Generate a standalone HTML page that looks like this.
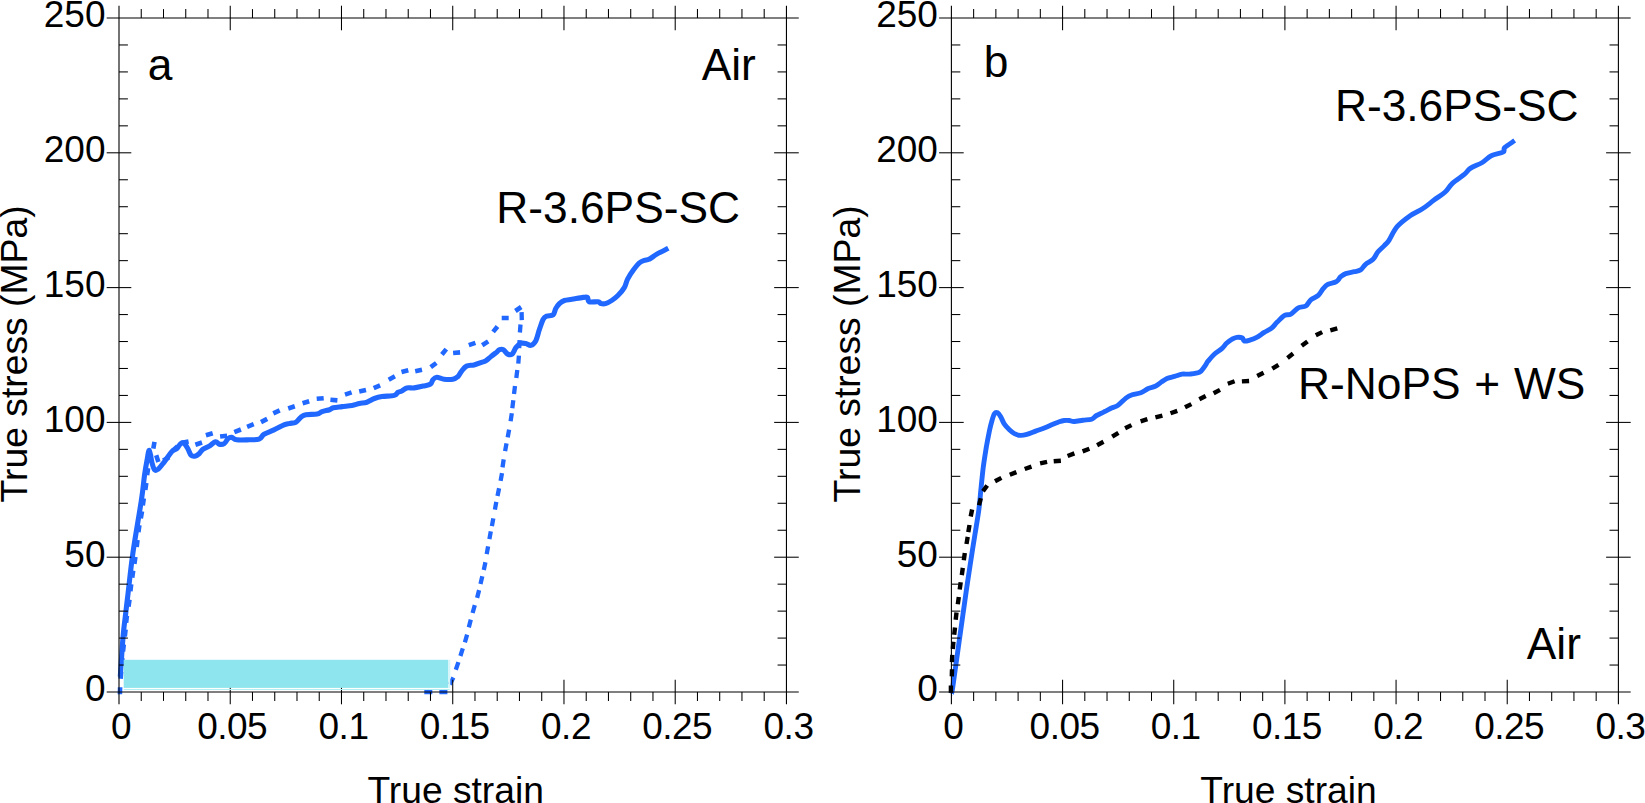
<!DOCTYPE html>
<html lang="en">
<head>
<meta charset="utf-8">
<title>True stress vs true strain</title>
<style>
html,body{margin:0;padding:0;background:#fff;}
body{width:1645px;height:803px;overflow:hidden;}
svg{display:block;}
</style>
</head>
<body>
<svg width="1645" height="803" viewBox="0 0 1645 803" font-family="'Liberation Sans', Arial, Helvetica, sans-serif">
<rect x="0" y="0" width="1645" height="803" fill="#fff"/>
<path d="M120.3,676.6 C120.5,673.1 121.2,662.7 121.7,655.4 C122.2,648.1 122.7,640.3 123.4,633.0 C124.1,625.7 125.2,617.8 125.9,611.6 C126.6,605.4 126.6,605.6 127.8,595.6 C129.0,585.6 130.8,567.5 133.1,551.6 C135.4,535.7 139.5,512.9 141.4,500.2 C143.3,487.5 143.6,481.9 144.5,475.3 C145.4,468.7 146.2,464.6 147.0,460.4 C147.8,456.3 148.5,450.0 149.3,450.4 C150.1,450.8 151.1,459.7 152.0,462.9 C152.9,466.1 153.5,468.7 154.5,469.7 C155.5,470.7 156.5,470.5 158.2,469.1 C159.9,467.8 162.2,464.5 164.5,461.6 C166.8,458.7 169.8,453.8 171.9,451.6 C174.0,449.4 175.4,449.9 176.9,448.6 C178.4,447.3 179.4,444.4 180.7,443.6 C181.9,442.8 183.2,442.7 184.4,443.6 C185.6,444.5 187.0,447.2 188.1,449.2 C189.2,451.2 189.9,454.3 191.2,455.4 C192.4,456.5 194.2,456.3 195.6,456.0 C196.9,455.7 198.0,454.6 199.3,453.5 C200.5,452.4 201.4,450.4 203.1,449.2 C204.8,448.0 207.2,447.4 209.3,446.1 C211.4,444.9 213.8,442.0 215.5,441.7 C217.2,441.4 217.8,443.9 219.2,444.2 C220.6,444.5 222.7,444.5 224.2,443.6 C225.7,442.7 226.8,439.7 228.0,438.6 C229.2,437.6 230.2,437.1 231.7,437.3 C233.1,437.5 233.8,439.4 236.7,439.8 C239.6,440.2 245.4,439.9 249.1,439.8 C252.8,439.7 256.6,440.1 259.1,439.2 C261.6,438.3 261.6,435.8 264.1,434.2 C266.6,432.7 270.7,431.5 274.0,429.9 C277.3,428.4 281.4,426.0 284.0,424.9 C286.6,423.8 287.7,423.9 289.7,423.4 C291.7,423.0 294.0,423.2 295.9,422.2 C297.8,421.2 299.2,418.5 300.9,417.2 C302.6,416.0 303.2,415.2 305.9,414.7 C308.6,414.2 314.4,414.6 317.1,414.1 C319.8,413.6 320.0,412.3 322.1,411.6 C324.2,410.9 327.7,410.3 329.6,409.7 C331.5,409.1 331.2,408.3 333.3,407.8 C335.4,407.3 338.9,407.0 342.0,406.6 C345.1,406.2 349.1,405.9 352.0,405.4 C354.9,404.9 356.9,404.0 359.4,403.5 C361.9,403.0 364.4,403.0 366.9,402.2 C369.4,401.4 371.9,399.4 374.4,398.5 C376.9,397.6 378.6,397.1 381.9,396.6 C385.2,396.1 391.6,396.1 394.3,395.4 C397.0,394.7 396.8,393.0 398.0,392.3 C399.2,391.6 400.3,391.7 401.8,391.0 C403.3,390.3 404.7,388.4 406.8,387.9 C408.9,387.4 411.5,388.2 414.2,387.9 C416.9,387.6 420.3,386.7 423.0,386.1 C425.7,385.5 428.8,385.3 430.4,384.2 C432.0,383.2 431.8,381.0 432.9,379.8 C433.9,378.6 434.8,377.4 436.7,377.3 C438.6,377.2 441.4,378.9 444.1,379.2 C446.8,379.5 450.5,379.6 452.8,379.2 C455.1,378.8 456.3,378.1 457.8,376.7 C459.3,375.4 460.1,372.9 461.6,371.1 C463.0,369.3 464.4,367.1 466.5,366.1 C468.6,365.1 471.5,365.5 474.0,364.9 C476.5,364.3 479.6,363.1 481.5,362.4 C483.4,361.7 484.1,361.9 485.7,360.9 C487.3,359.9 489.2,358.0 490.9,356.6 C492.6,355.2 494.4,353.9 495.9,352.8 C497.3,351.7 498.3,350.2 499.6,349.7 C500.8,349.2 502.0,349.0 503.4,349.7 C504.8,350.4 506.2,353.4 507.7,354.1 C509.1,354.8 510.8,355.2 512.1,354.1 C513.5,353.1 514.5,349.6 515.8,347.8 C517.2,346.0 518.5,344.2 520.2,343.5 C521.9,342.8 524.0,343.2 525.8,343.5 C527.6,343.8 529.2,345.8 530.8,345.4 C532.5,345.0 534.2,343.7 535.7,341.0 C537.2,338.3 538.2,332.8 539.5,329.2 C540.8,325.6 542.0,321.4 543.2,319.2 C544.4,317.0 545.2,316.8 546.9,316.1 C548.6,315.4 551.7,316.1 553.2,314.8 C554.7,313.6 554.7,310.5 555.7,308.6 C556.7,306.7 558.0,305.0 559.4,303.6 C560.9,302.2 562.3,301.2 564.4,300.5 C566.5,299.8 568.8,299.8 571.9,299.3 C575.0,298.8 580.5,297.7 583.1,297.4 C585.7,297.1 586.4,296.7 587.4,297.4 C588.4,298.1 587.5,301.1 589.3,301.8 C591.1,302.5 596.0,301.5 598.0,301.8 C600.0,302.1 599.9,303.3 601.1,303.6 C602.4,303.9 603.7,304.1 605.5,303.6 C607.3,303.1 609.6,301.9 611.7,300.5 C613.8,299.1 615.8,297.6 617.9,295.5 C620.0,293.4 622.7,290.3 624.3,287.6 C625.9,284.9 626.1,282.0 627.6,279.1 C629.1,276.2 631.2,273.0 633.2,270.3 C635.2,267.6 637.5,264.6 639.4,262.9 C641.3,261.3 642.7,261.0 644.4,260.4 C646.1,259.8 647.3,260.2 649.4,259.1 C651.5,258.1 653.7,255.9 656.8,254.1 C660.0,252.3 666.4,249.3 668.3,248.3" fill="none" stroke="#2068ff" stroke-width="5.1" stroke-linejoin="round" stroke-linecap="butt"/>
<path d="M119.9,694.3 L120.1,687.3 M120.6,678.8 L121.2,671.8 M121.8,665.1 L122.4,658.1 M123.0,651.4 L123.8,644.4 M124.8,636.5 L125.6,629.5 M126.1,622.8 L126.9,615.8 M128.5,606.6 L129.5,599.6 M130.4,591.3 L131.2,584.3 M132.2,577.6 L133.2,570.6 M134.4,563.9 L135.4,556.9 M136.7,547.1 L137.5,540.1 M138.4,532.1 L139.4,525.1 M140.8,518.4 L142.0,511.4 M142.8,505.3 L143.8,498.3 M145.3,490.0 L146.3,483.0 M147.1,475.1 L148.1,468.1 M149.5,461.0 L151.1,454.2 M153.3,448.6 L154.5,441.8 M156.2,455.3 L158.4,461.9 M163.2,460.6 L169.2,457.2 M172.4,450.9 L177.6,446.3 M181.8,442.8 L188.6,441.4 M195.4,444.7 L202.0,442.5 M205.9,435.2 L212.7,433.2 M220.1,436.5 L227.1,435.7 M234.3,432.1 L240.9,429.5 M247.1,426.8 L253.7,424.2 M261.0,422.1 L267.2,418.9 M273.3,413.3 L279.7,410.3 M288.2,408.5 L294.8,406.3 M302.6,403.2 L309.2,401.2 M316.7,398.8 L323.7,398.2 M330.4,399.8 L337.4,400.4 M345.0,394.6 L351.6,392.4 M359.2,391.6 L366.0,390.0 M373.7,388.1 L380.1,385.3 M388.7,379.7 L394.9,376.3 M401.5,372.0 L408.3,370.2 M415.2,371.2 L422.0,369.8 M430.7,367.2 L436.3,363.0 M441.9,354.5 L446.3,349.1 M453.1,353.0 L460.1,352.4 M468.8,345.1 L475.4,342.9 M482.2,345.2 L488.2,341.4 M493.1,331.9 L497.5,326.5 M501.7,318.0 L508.7,318.0 M515.4,311.0 L521.2,307.0" fill="none" stroke="#2068ff" stroke-width="4.6" stroke-linecap="butt"/>
<path d="M521.6,312.1 L521.8,320.1 M520.5,324.5 L519.9,332.5 M519.6,340.1 L519.2,348.1 M518.9,355.7 L518.3,363.7 M517.3,370.1 L516.3,378.1 M515.0,385.9 L514.0,393.9 M513.3,400.2 L512.3,408.2 M511.8,413.3 L510.6,421.3 M509.1,429.6 L507.7,437.4 M506.5,443.3 L505.1,451.1 M503.7,459.4 L502.5,467.4 M502.0,473.1 L500.6,480.9 M499.1,488.2 L497.5,496.0 M496.3,501.9 L494.9,509.7 M493.3,518.3 L491.9,526.1 M490.8,531.4 L489.4,539.2 M488.1,546.4 L486.7,554.2 M485.4,562.2 L483.8,570.0 M482.3,576.2 L480.5,584.0 M479.1,590.1 L477.1,597.9 M474.8,605.2 L472.6,613.0 M470.8,619.6 L468.8,627.4 M467.1,634.7 L464.9,642.3 M462.8,648.4 L460.4,656.0 M458.4,662.1 L455.8,669.7 M453.4,677.5 L449.8,684.5 M439.4,692.2 L447.4,692.2 M424.3,692.2 L432.3,692.2" fill="none" stroke="#2068ff" stroke-width="4.3" stroke-linecap="butt"/>
<g stroke="#000" stroke-width="1.1" fill="none">
<line x1="106.70" y1="18.00" x2="798.75" y2="18.00"/>
<line x1="106.70" y1="692.00" x2="798.75" y2="692.00"/>
<line x1="119.00" y1="5.70" x2="119.00" y2="704.30"/>
<line x1="786.45" y1="5.70" x2="786.45" y2="704.30"/>
</g>
<g stroke="#000" stroke-width="1.05" fill="none">
<line x1="141.25" y1="9.10" x2="141.25" y2="18.00"/>
<line x1="141.25" y1="692.00" x2="141.25" y2="700.90"/>
<line x1="163.50" y1="9.10" x2="163.50" y2="18.00"/>
<line x1="163.50" y1="692.00" x2="163.50" y2="700.90"/>
<line x1="185.75" y1="9.10" x2="185.75" y2="18.00"/>
<line x1="185.75" y1="692.00" x2="185.75" y2="700.90"/>
<line x1="207.99" y1="9.10" x2="207.99" y2="18.00"/>
<line x1="207.99" y1="692.00" x2="207.99" y2="700.90"/>
<line x1="230.24" y1="5.70" x2="230.24" y2="30.30"/>
<line x1="230.24" y1="679.70" x2="230.24" y2="704.30"/>
<line x1="252.49" y1="9.10" x2="252.49" y2="18.00"/>
<line x1="252.49" y1="692.00" x2="252.49" y2="700.90"/>
<line x1="274.74" y1="9.10" x2="274.74" y2="18.00"/>
<line x1="274.74" y1="692.00" x2="274.74" y2="700.90"/>
<line x1="296.99" y1="9.10" x2="296.99" y2="18.00"/>
<line x1="296.99" y1="692.00" x2="296.99" y2="700.90"/>
<line x1="319.24" y1="9.10" x2="319.24" y2="18.00"/>
<line x1="319.24" y1="692.00" x2="319.24" y2="700.90"/>
<line x1="341.48" y1="5.70" x2="341.48" y2="30.30"/>
<line x1="341.48" y1="679.70" x2="341.48" y2="704.30"/>
<line x1="363.73" y1="9.10" x2="363.73" y2="18.00"/>
<line x1="363.73" y1="692.00" x2="363.73" y2="700.90"/>
<line x1="385.98" y1="9.10" x2="385.98" y2="18.00"/>
<line x1="385.98" y1="692.00" x2="385.98" y2="700.90"/>
<line x1="408.23" y1="9.10" x2="408.23" y2="18.00"/>
<line x1="408.23" y1="692.00" x2="408.23" y2="700.90"/>
<line x1="430.48" y1="9.10" x2="430.48" y2="18.00"/>
<line x1="430.48" y1="692.00" x2="430.48" y2="700.90"/>
<line x1="452.73" y1="5.70" x2="452.73" y2="30.30"/>
<line x1="452.73" y1="679.70" x2="452.73" y2="704.30"/>
<line x1="474.97" y1="9.10" x2="474.97" y2="18.00"/>
<line x1="474.97" y1="692.00" x2="474.97" y2="700.90"/>
<line x1="497.22" y1="9.10" x2="497.22" y2="18.00"/>
<line x1="497.22" y1="692.00" x2="497.22" y2="700.90"/>
<line x1="519.47" y1="9.10" x2="519.47" y2="18.00"/>
<line x1="519.47" y1="692.00" x2="519.47" y2="700.90"/>
<line x1="541.72" y1="9.10" x2="541.72" y2="18.00"/>
<line x1="541.72" y1="692.00" x2="541.72" y2="700.90"/>
<line x1="563.97" y1="5.70" x2="563.97" y2="30.30"/>
<line x1="563.97" y1="679.70" x2="563.97" y2="704.30"/>
<line x1="586.22" y1="9.10" x2="586.22" y2="18.00"/>
<line x1="586.22" y1="692.00" x2="586.22" y2="700.90"/>
<line x1="608.46" y1="9.10" x2="608.46" y2="18.00"/>
<line x1="608.46" y1="692.00" x2="608.46" y2="700.90"/>
<line x1="630.71" y1="9.10" x2="630.71" y2="18.00"/>
<line x1="630.71" y1="692.00" x2="630.71" y2="700.90"/>
<line x1="652.96" y1="9.10" x2="652.96" y2="18.00"/>
<line x1="652.96" y1="692.00" x2="652.96" y2="700.90"/>
<line x1="675.21" y1="5.70" x2="675.21" y2="30.30"/>
<line x1="675.21" y1="679.70" x2="675.21" y2="704.30"/>
<line x1="697.46" y1="9.10" x2="697.46" y2="18.00"/>
<line x1="697.46" y1="692.00" x2="697.46" y2="700.90"/>
<line x1="719.71" y1="9.10" x2="719.71" y2="18.00"/>
<line x1="719.71" y1="692.00" x2="719.71" y2="700.90"/>
<line x1="741.95" y1="9.10" x2="741.95" y2="18.00"/>
<line x1="741.95" y1="692.00" x2="741.95" y2="700.90"/>
<line x1="764.20" y1="9.10" x2="764.20" y2="18.00"/>
<line x1="764.20" y1="692.00" x2="764.20" y2="700.90"/>
<line x1="119.00" y1="665.04" x2="127.90" y2="665.04"/>
<line x1="777.55" y1="665.04" x2="786.45" y2="665.04"/>
<line x1="119.00" y1="638.08" x2="127.90" y2="638.08"/>
<line x1="777.55" y1="638.08" x2="786.45" y2="638.08"/>
<line x1="119.00" y1="611.12" x2="127.90" y2="611.12"/>
<line x1="777.55" y1="611.12" x2="786.45" y2="611.12"/>
<line x1="119.00" y1="584.16" x2="127.90" y2="584.16"/>
<line x1="777.55" y1="584.16" x2="786.45" y2="584.16"/>
<line x1="106.70" y1="557.20" x2="131.30" y2="557.20"/>
<line x1="774.15" y1="557.20" x2="798.75" y2="557.20"/>
<line x1="119.00" y1="530.24" x2="127.90" y2="530.24"/>
<line x1="777.55" y1="530.24" x2="786.45" y2="530.24"/>
<line x1="119.00" y1="503.28" x2="127.90" y2="503.28"/>
<line x1="777.55" y1="503.28" x2="786.45" y2="503.28"/>
<line x1="119.00" y1="476.32" x2="127.90" y2="476.32"/>
<line x1="777.55" y1="476.32" x2="786.45" y2="476.32"/>
<line x1="119.00" y1="449.36" x2="127.90" y2="449.36"/>
<line x1="777.55" y1="449.36" x2="786.45" y2="449.36"/>
<line x1="106.70" y1="422.40" x2="131.30" y2="422.40"/>
<line x1="774.15" y1="422.40" x2="798.75" y2="422.40"/>
<line x1="119.00" y1="395.44" x2="127.90" y2="395.44"/>
<line x1="777.55" y1="395.44" x2="786.45" y2="395.44"/>
<line x1="119.00" y1="368.48" x2="127.90" y2="368.48"/>
<line x1="777.55" y1="368.48" x2="786.45" y2="368.48"/>
<line x1="119.00" y1="341.52" x2="127.90" y2="341.52"/>
<line x1="777.55" y1="341.52" x2="786.45" y2="341.52"/>
<line x1="119.00" y1="314.56" x2="127.90" y2="314.56"/>
<line x1="777.55" y1="314.56" x2="786.45" y2="314.56"/>
<line x1="106.70" y1="287.60" x2="131.30" y2="287.60"/>
<line x1="774.15" y1="287.60" x2="798.75" y2="287.60"/>
<line x1="119.00" y1="260.64" x2="127.90" y2="260.64"/>
<line x1="777.55" y1="260.64" x2="786.45" y2="260.64"/>
<line x1="119.00" y1="233.68" x2="127.90" y2="233.68"/>
<line x1="777.55" y1="233.68" x2="786.45" y2="233.68"/>
<line x1="119.00" y1="206.72" x2="127.90" y2="206.72"/>
<line x1="777.55" y1="206.72" x2="786.45" y2="206.72"/>
<line x1="119.00" y1="179.76" x2="127.90" y2="179.76"/>
<line x1="777.55" y1="179.76" x2="786.45" y2="179.76"/>
<line x1="106.70" y1="152.80" x2="131.30" y2="152.80"/>
<line x1="774.15" y1="152.80" x2="798.75" y2="152.80"/>
<line x1="119.00" y1="125.84" x2="127.90" y2="125.84"/>
<line x1="777.55" y1="125.84" x2="786.45" y2="125.84"/>
<line x1="119.00" y1="98.88" x2="127.90" y2="98.88"/>
<line x1="777.55" y1="98.88" x2="786.45" y2="98.88"/>
<line x1="119.00" y1="71.92" x2="127.90" y2="71.92"/>
<line x1="777.55" y1="71.92" x2="786.45" y2="71.92"/>
<line x1="119.00" y1="44.96" x2="127.90" y2="44.96"/>
<line x1="777.55" y1="44.96" x2="786.45" y2="44.96"/>
</g>
<rect x="123.7" y="659.8" width="324.6" height="28.1" fill="#8fe5ee"/>
<rect x="448.3" y="659.8" width="2" height="28.1" fill="#d6f5f8"/>
<rect x="123.7" y="689" width="326" height="1" fill="#b5eef3"/>
<g font-size="37" fill="#000">
<text x="121.0" y="738.6" text-anchor="middle" letter-spacing="-0.5">0</text>
<text x="232.2" y="738.6" text-anchor="middle" letter-spacing="-0.5">0.05</text>
<text x="343.5" y="738.6" text-anchor="middle" letter-spacing="-0.5">0.1</text>
<text x="454.7" y="738.6" text-anchor="middle" letter-spacing="-0.5">0.15</text>
<text x="566.0" y="738.6" text-anchor="middle" letter-spacing="-0.5">0.2</text>
<text x="677.2" y="738.6" text-anchor="middle" letter-spacing="-0.5">0.25</text>
<text x="788.5" y="738.6" text-anchor="middle" letter-spacing="-0.5">0.3</text>
<text x="105.5" y="701.3" text-anchor="end">0</text>
<text x="105.5" y="566.5" text-anchor="end">50</text>
<text x="105.5" y="431.7" text-anchor="end">100</text>
<text x="105.5" y="296.9" text-anchor="end">150</text>
<text x="105.5" y="162.1" text-anchor="end">200</text>
<text x="105.5" y="27.3" text-anchor="end">250</text>
<text x="455.7" y="802.6" text-anchor="middle" font-size="37.2">True strain</text>
<text transform="translate(27.0,353.9) rotate(-90)" text-anchor="middle" font-size="37.3">True stress (MPa)</text>
</g>
<g font-size="44.3" fill="#000">
<text x="147.8" y="80.2">a</text>
<text x="701.7" y="80.3">Air</text>
<text x="496.3" y="223.1">R-3.6PS-SC</text>
</g>
<path d="M951.0,693.6 C951.2,693.0 951.5,694.9 952.3,690.2 C953.1,685.5 954.6,673.6 955.8,665.3 C957.0,657.0 958.1,648.7 959.3,640.4 C960.5,632.1 961.6,623.8 962.8,615.5 C964.0,607.2 965.1,599.0 966.3,590.6 C967.5,582.2 968.7,574.7 970.1,565.3 C971.5,555.9 973.5,543.5 975.0,534.2 C976.5,524.9 977.9,516.6 978.9,509.3 C979.9,502.0 980.1,497.5 980.8,490.6 C981.5,483.7 982.3,475.1 983.2,467.8 C984.1,460.5 985.4,452.8 986.4,446.6 C987.5,440.4 988.6,434.9 989.5,430.5 C990.4,426.1 991.2,423.3 992.0,420.5 C992.8,417.7 993.6,414.9 994.5,413.6 C995.4,412.3 996.6,412.3 997.6,412.8 C998.6,413.3 999.6,414.9 1000.7,416.8 C1001.8,418.7 1003.0,422.0 1004.4,424.2 C1005.9,426.4 1007.7,428.2 1009.4,429.8 C1011.1,431.4 1012.5,432.7 1014.4,433.6 C1016.3,434.5 1018.5,435.3 1020.6,435.4 C1022.7,435.5 1024.3,435.1 1026.8,434.4 C1029.3,433.7 1032.7,432.2 1035.6,431.1 C1038.5,430.0 1041.6,429.1 1044.3,428.0 C1047.0,426.9 1049.2,425.9 1051.7,424.8 C1054.2,423.8 1057.1,422.4 1059.2,421.7 C1061.3,421.0 1062.5,420.7 1064.2,420.5 C1065.9,420.3 1067.5,420.3 1069.2,420.5 C1070.9,420.7 1071.9,421.6 1074.2,421.5 C1076.5,421.4 1080.0,420.6 1082.9,420.2 C1085.8,419.8 1089.3,420.0 1091.6,419.2 C1093.9,418.4 1094.5,416.7 1096.6,415.5 C1098.7,414.3 1101.6,413.1 1104.1,411.8 C1106.6,410.6 1109.2,409.1 1111.5,408.0 C1113.8,406.9 1115.3,407.1 1117.7,405.5 C1120.1,403.9 1123.5,399.9 1125.9,398.1 C1128.3,396.3 1129.7,395.6 1132.2,394.7 C1134.7,393.8 1138.2,393.8 1140.9,392.8 C1143.6,391.8 1145.8,389.6 1148.3,388.5 C1150.8,387.4 1153.5,387.1 1155.8,386.0 C1158.1,384.9 1160.1,382.9 1162.0,381.6 C1163.9,380.4 1164.9,379.4 1167.0,378.5 C1169.1,377.6 1172.0,377.1 1174.5,376.4 C1177.0,375.7 1179.5,374.5 1182.0,374.1 C1184.5,373.7 1186.5,374.4 1189.4,374.1 C1192.3,373.8 1196.9,373.5 1199.4,372.3 C1201.9,371.1 1203.0,368.6 1204.4,366.7 C1205.9,364.8 1206.5,363.2 1208.1,361.1 C1209.8,359.0 1212.0,356.3 1214.3,354.2 C1216.6,352.1 1219.7,350.5 1221.8,348.6 C1223.9,346.7 1225.1,344.6 1226.8,343.0 C1228.5,341.4 1230.1,340.2 1231.8,339.3 C1233.5,338.4 1235.0,337.6 1236.8,337.4 C1238.6,337.2 1241.2,337.4 1242.4,338.0 C1243.6,338.6 1242.9,340.8 1244.2,341.1 C1245.5,341.4 1248.4,340.5 1250.5,339.9 C1252.6,339.3 1254.4,338.7 1256.7,337.4 C1259.0,336.2 1261.7,334.0 1264.2,332.4 C1266.7,330.9 1269.4,329.8 1271.6,328.1 C1273.8,326.4 1275.0,324.2 1277.2,322.1 C1279.4,320.0 1282.3,316.6 1284.6,315.3 C1286.9,314.0 1288.6,315.4 1290.9,314.1 C1293.2,312.9 1295.8,309.2 1298.3,307.8 C1300.8,306.4 1303.7,307.3 1305.8,306.0 C1307.9,304.7 1308.7,301.6 1310.8,299.8 C1312.9,298.0 1316.2,297.3 1318.3,295.4 C1320.4,293.5 1321.5,290.5 1323.2,288.6 C1324.9,286.7 1326.0,285.4 1328.2,284.2 C1330.4,283.1 1334.2,283.0 1336.3,281.7 C1338.4,280.5 1339.1,278.1 1340.7,276.7 C1342.3,275.4 1343.4,274.4 1345.7,273.6 C1348.0,272.8 1351.9,272.3 1354.4,271.7 C1356.9,271.1 1358.7,271.1 1360.6,269.9 C1362.5,268.7 1363.5,266.1 1365.6,264.3 C1367.7,262.5 1371.0,261.4 1373.1,259.3 C1375.2,257.2 1376.1,254.1 1378.0,251.8 C1379.9,249.5 1382.5,247.5 1384.3,245.6 C1386.1,243.7 1386.9,243.6 1389.0,240.4 C1391.1,237.2 1393.5,230.8 1397.1,226.7 C1400.7,222.5 1406.3,218.5 1410.5,215.5 C1414.7,212.5 1418.5,211.4 1422.5,208.8 C1426.5,206.2 1430.7,202.5 1434.4,199.8 C1438.1,197.0 1441.9,195.0 1444.9,192.3 C1447.9,189.6 1449.2,186.4 1452.4,183.4 C1455.6,180.4 1461.3,176.9 1464.3,174.4 C1467.3,171.9 1467.3,170.4 1470.3,168.4 C1473.3,166.4 1478.8,164.6 1482.3,162.5 C1485.8,160.4 1487.7,157.4 1491.2,155.7 C1494.7,153.9 1501.0,153.4 1503.2,152.0 C1505.5,150.6 1502.8,149.4 1504.7,147.5 C1506.6,145.6 1513.0,141.8 1514.7,140.6" fill="none" stroke="#2068ff" stroke-width="4.9" stroke-linejoin="round" stroke-linecap="butt"/>
<path d="M950.9,692.7 L950.9,685.5 M951.8,676.4 L952.0,669.2 M951.9,662.1 L952.3,654.9 M952.8,649.0 L953.4,641.8 M954.2,634.7 L955.0,627.5 M955.7,619.7 L956.5,612.5 M957.8,604.2 L958.8,597.0 M959.7,589.5 L960.7,582.3 M961.8,575.1 L962.8,567.9 M963.8,560.2 L964.8,553.0 M966.5,544.0 L967.7,536.8 M968.3,532.2 L969.5,525.0 M970.7,516.5 L972.1,509.5 M979.0,505.3 L980.8,498.3 M983.0,491.3 L987.2,485.5 M995.0,481.3 L1001.4,477.9 M1009.8,474.7 L1016.4,472.1 M1024.7,469.0 L1031.5,466.6 M1040.1,463.4 L1047.1,461.8 M1053.7,461.3 L1060.9,460.7 M1067.6,456.0 L1074.4,453.4 M1082.6,451.4 L1089.4,448.8 M1097.1,445.2 L1103.5,441.8 M1112.2,436.7 L1118.4,432.9 M1125.1,428.3 L1131.5,425.1 M1140.6,421.3 L1147.4,419.1 M1155.4,417.4 L1162.4,415.6 M1170.5,413.3 L1177.3,410.9 M1185.0,407.3 L1191.4,404.1 M1199.3,399.2 L1205.7,396.0 M1213.6,393.3 L1220.0,389.9 M1227.8,383.7 L1234.6,381.3 M1241.9,381.4 L1249.1,381.0 M1257.2,376.0 L1263.6,372.8 M1272.3,368.6 L1278.5,364.8 M1287.5,358.0 L1293.1,353.6 M1301.7,345.8 L1307.5,341.4 M1315.8,335.3 L1322.2,332.1 M1330.3,330.3 L1337.3,328.3" fill="none" stroke="#000" stroke-width="4.4" stroke-linecap="butt"/>
<g stroke="#000" stroke-width="1.1" fill="none">
<line x1="939.10" y1="18.00" x2="1630.70" y2="18.00"/>
<line x1="939.10" y1="692.00" x2="1630.70" y2="692.00"/>
<line x1="951.40" y1="5.70" x2="951.40" y2="704.30"/>
<line x1="1618.40" y1="5.70" x2="1618.40" y2="704.30"/>
</g>
<g stroke="#000" stroke-width="1.05" fill="none">
<line x1="973.63" y1="9.10" x2="973.63" y2="18.00"/>
<line x1="973.63" y1="692.00" x2="973.63" y2="700.90"/>
<line x1="995.87" y1="9.10" x2="995.87" y2="18.00"/>
<line x1="995.87" y1="692.00" x2="995.87" y2="700.90"/>
<line x1="1018.10" y1="9.10" x2="1018.10" y2="18.00"/>
<line x1="1018.10" y1="692.00" x2="1018.10" y2="700.90"/>
<line x1="1040.33" y1="9.10" x2="1040.33" y2="18.00"/>
<line x1="1040.33" y1="692.00" x2="1040.33" y2="700.90"/>
<line x1="1062.57" y1="5.70" x2="1062.57" y2="30.30"/>
<line x1="1062.57" y1="679.70" x2="1062.57" y2="704.30"/>
<line x1="1084.80" y1="9.10" x2="1084.80" y2="18.00"/>
<line x1="1084.80" y1="692.00" x2="1084.80" y2="700.90"/>
<line x1="1107.03" y1="9.10" x2="1107.03" y2="18.00"/>
<line x1="1107.03" y1="692.00" x2="1107.03" y2="700.90"/>
<line x1="1129.27" y1="9.10" x2="1129.27" y2="18.00"/>
<line x1="1129.27" y1="692.00" x2="1129.27" y2="700.90"/>
<line x1="1151.50" y1="9.10" x2="1151.50" y2="18.00"/>
<line x1="1151.50" y1="692.00" x2="1151.50" y2="700.90"/>
<line x1="1173.73" y1="5.70" x2="1173.73" y2="30.30"/>
<line x1="1173.73" y1="679.70" x2="1173.73" y2="704.30"/>
<line x1="1195.97" y1="9.10" x2="1195.97" y2="18.00"/>
<line x1="1195.97" y1="692.00" x2="1195.97" y2="700.90"/>
<line x1="1218.20" y1="9.10" x2="1218.20" y2="18.00"/>
<line x1="1218.20" y1="692.00" x2="1218.20" y2="700.90"/>
<line x1="1240.43" y1="9.10" x2="1240.43" y2="18.00"/>
<line x1="1240.43" y1="692.00" x2="1240.43" y2="700.90"/>
<line x1="1262.67" y1="9.10" x2="1262.67" y2="18.00"/>
<line x1="1262.67" y1="692.00" x2="1262.67" y2="700.90"/>
<line x1="1284.90" y1="5.70" x2="1284.90" y2="30.30"/>
<line x1="1284.90" y1="679.70" x2="1284.90" y2="704.30"/>
<line x1="1307.13" y1="9.10" x2="1307.13" y2="18.00"/>
<line x1="1307.13" y1="692.00" x2="1307.13" y2="700.90"/>
<line x1="1329.37" y1="9.10" x2="1329.37" y2="18.00"/>
<line x1="1329.37" y1="692.00" x2="1329.37" y2="700.90"/>
<line x1="1351.60" y1="9.10" x2="1351.60" y2="18.00"/>
<line x1="1351.60" y1="692.00" x2="1351.60" y2="700.90"/>
<line x1="1373.83" y1="9.10" x2="1373.83" y2="18.00"/>
<line x1="1373.83" y1="692.00" x2="1373.83" y2="700.90"/>
<line x1="1396.07" y1="5.70" x2="1396.07" y2="30.30"/>
<line x1="1396.07" y1="679.70" x2="1396.07" y2="704.30"/>
<line x1="1418.30" y1="9.10" x2="1418.30" y2="18.00"/>
<line x1="1418.30" y1="692.00" x2="1418.30" y2="700.90"/>
<line x1="1440.53" y1="9.10" x2="1440.53" y2="18.00"/>
<line x1="1440.53" y1="692.00" x2="1440.53" y2="700.90"/>
<line x1="1462.77" y1="9.10" x2="1462.77" y2="18.00"/>
<line x1="1462.77" y1="692.00" x2="1462.77" y2="700.90"/>
<line x1="1485.00" y1="9.10" x2="1485.00" y2="18.00"/>
<line x1="1485.00" y1="692.00" x2="1485.00" y2="700.90"/>
<line x1="1507.23" y1="5.70" x2="1507.23" y2="30.30"/>
<line x1="1507.23" y1="679.70" x2="1507.23" y2="704.30"/>
<line x1="1529.47" y1="9.10" x2="1529.47" y2="18.00"/>
<line x1="1529.47" y1="692.00" x2="1529.47" y2="700.90"/>
<line x1="1551.70" y1="9.10" x2="1551.70" y2="18.00"/>
<line x1="1551.70" y1="692.00" x2="1551.70" y2="700.90"/>
<line x1="1573.93" y1="9.10" x2="1573.93" y2="18.00"/>
<line x1="1573.93" y1="692.00" x2="1573.93" y2="700.90"/>
<line x1="1596.17" y1="9.10" x2="1596.17" y2="18.00"/>
<line x1="1596.17" y1="692.00" x2="1596.17" y2="700.90"/>
<line x1="951.40" y1="665.04" x2="960.30" y2="665.04"/>
<line x1="1609.50" y1="665.04" x2="1618.40" y2="665.04"/>
<line x1="951.40" y1="638.08" x2="960.30" y2="638.08"/>
<line x1="1609.50" y1="638.08" x2="1618.40" y2="638.08"/>
<line x1="951.40" y1="611.12" x2="960.30" y2="611.12"/>
<line x1="1609.50" y1="611.12" x2="1618.40" y2="611.12"/>
<line x1="951.40" y1="584.16" x2="960.30" y2="584.16"/>
<line x1="1609.50" y1="584.16" x2="1618.40" y2="584.16"/>
<line x1="939.10" y1="557.20" x2="963.70" y2="557.20"/>
<line x1="1606.10" y1="557.20" x2="1630.70" y2="557.20"/>
<line x1="951.40" y1="530.24" x2="960.30" y2="530.24"/>
<line x1="1609.50" y1="530.24" x2="1618.40" y2="530.24"/>
<line x1="951.40" y1="503.28" x2="960.30" y2="503.28"/>
<line x1="1609.50" y1="503.28" x2="1618.40" y2="503.28"/>
<line x1="951.40" y1="476.32" x2="960.30" y2="476.32"/>
<line x1="1609.50" y1="476.32" x2="1618.40" y2="476.32"/>
<line x1="951.40" y1="449.36" x2="960.30" y2="449.36"/>
<line x1="1609.50" y1="449.36" x2="1618.40" y2="449.36"/>
<line x1="939.10" y1="422.40" x2="963.70" y2="422.40"/>
<line x1="1606.10" y1="422.40" x2="1630.70" y2="422.40"/>
<line x1="951.40" y1="395.44" x2="960.30" y2="395.44"/>
<line x1="1609.50" y1="395.44" x2="1618.40" y2="395.44"/>
<line x1="951.40" y1="368.48" x2="960.30" y2="368.48"/>
<line x1="1609.50" y1="368.48" x2="1618.40" y2="368.48"/>
<line x1="951.40" y1="341.52" x2="960.30" y2="341.52"/>
<line x1="1609.50" y1="341.52" x2="1618.40" y2="341.52"/>
<line x1="951.40" y1="314.56" x2="960.30" y2="314.56"/>
<line x1="1609.50" y1="314.56" x2="1618.40" y2="314.56"/>
<line x1="939.10" y1="287.60" x2="963.70" y2="287.60"/>
<line x1="1606.10" y1="287.60" x2="1630.70" y2="287.60"/>
<line x1="951.40" y1="260.64" x2="960.30" y2="260.64"/>
<line x1="1609.50" y1="260.64" x2="1618.40" y2="260.64"/>
<line x1="951.40" y1="233.68" x2="960.30" y2="233.68"/>
<line x1="1609.50" y1="233.68" x2="1618.40" y2="233.68"/>
<line x1="951.40" y1="206.72" x2="960.30" y2="206.72"/>
<line x1="1609.50" y1="206.72" x2="1618.40" y2="206.72"/>
<line x1="951.40" y1="179.76" x2="960.30" y2="179.76"/>
<line x1="1609.50" y1="179.76" x2="1618.40" y2="179.76"/>
<line x1="939.10" y1="152.80" x2="963.70" y2="152.80"/>
<line x1="1606.10" y1="152.80" x2="1630.70" y2="152.80"/>
<line x1="951.40" y1="125.84" x2="960.30" y2="125.84"/>
<line x1="1609.50" y1="125.84" x2="1618.40" y2="125.84"/>
<line x1="951.40" y1="98.88" x2="960.30" y2="98.88"/>
<line x1="1609.50" y1="98.88" x2="1618.40" y2="98.88"/>
<line x1="951.40" y1="71.92" x2="960.30" y2="71.92"/>
<line x1="1609.50" y1="71.92" x2="1618.40" y2="71.92"/>
<line x1="951.40" y1="44.96" x2="960.30" y2="44.96"/>
<line x1="1609.50" y1="44.96" x2="1618.40" y2="44.96"/>
</g>
<g font-size="37" fill="#000">
<text x="953.4" y="738.6" text-anchor="middle" letter-spacing="-0.5">0</text>
<text x="1064.6" y="738.6" text-anchor="middle" letter-spacing="-0.5">0.05</text>
<text x="1175.7" y="738.6" text-anchor="middle" letter-spacing="-0.5">0.1</text>
<text x="1286.9" y="738.6" text-anchor="middle" letter-spacing="-0.5">0.15</text>
<text x="1398.1" y="738.6" text-anchor="middle" letter-spacing="-0.5">0.2</text>
<text x="1509.2" y="738.6" text-anchor="middle" letter-spacing="-0.5">0.25</text>
<text x="1620.4" y="738.6" text-anchor="middle" letter-spacing="-0.5">0.3</text>
<text x="937.9" y="701.3" text-anchor="end">0</text>
<text x="937.9" y="566.5" text-anchor="end">50</text>
<text x="937.9" y="431.7" text-anchor="end">100</text>
<text x="937.9" y="296.9" text-anchor="end">150</text>
<text x="937.9" y="162.1" text-anchor="end">200</text>
<text x="937.9" y="27.3" text-anchor="end">250</text>
<text x="1288.5" y="802.6" text-anchor="middle" font-size="37.2">True strain</text>
<text transform="translate(860.3,353.9) rotate(-90)" text-anchor="middle" font-size="37.3">True stress (MPa)</text>
</g>
<g font-size="44.3" fill="#000">
<text x="983.8" y="77">b</text>
<text x="1334.9" y="120.8">R-3.6PS-SC</text>
<text x="1298.1" y="399.1" word-spacing="1.5">R-NoPS + WS</text>
<text x="1526.8" y="659">Air</text>
</g>
</svg>
</body>
</html>
